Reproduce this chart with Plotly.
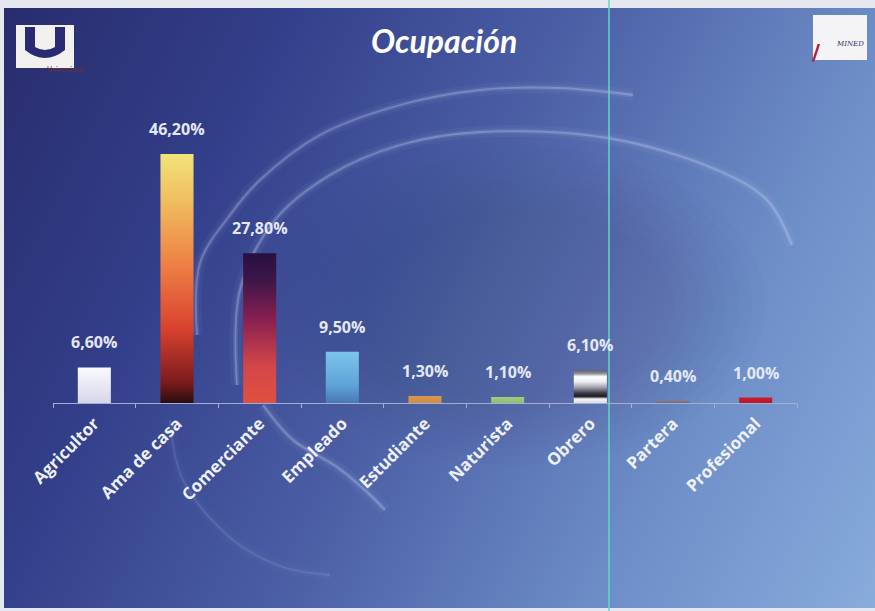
import numpy as np
import plotly.graph_objects as go

# Datos
categorias = ["Agricultor", "Ama de casa", "Comerciante", "Empleado", "Estudiante",
              "Naturista", "Obrero", "Partera", "Profesional"]
porcentajes = [6.6, 46.2, 27.8, 9.5, 1.3, 1.1, 6.1, 0.4, 1.0]
titulo = "Ocupación"

# Degradados de cada barra (de abajo hacia arriba)
degradados = [
    [[0, "#d6d6ea"], [1, "#fafafd"]],
    [[0, "#2a0c10"], [0.08, "#7a1a1c"], [0.3, "#d8432f"], [0.55, "#ee7e45"],
     [0.8, "#f0bb5e"], [1, "#f2e27a"]],
    [[0, "#e0503e"], [0.25, "#d2464a"], [0.55, "#8a2050"], [0.82, "#3e1648"], [1, "#261040"]],
    [[0, "#4a78b4"], [0.35, "#5ea4d8"], [1, "#7cc4ec"]],
    [[0, "#cf8c48"], [1, "#d89850"]],
    [[0, "#8ec070"], [1, "#a0cc80"]],
    [[0, "#dcdce4"], [0.12, "#f4f4f6"], [0.2, "#1c1c22"], [0.3, "#3a3a44"],
     [0.48, "#a4a4ae"], [0.65, "#eeeef2"], [0.8, "#ffffff"], [0.9, "#8c8c96"], [1, "#60606c"]],
    [[0, "#7a6870"], [1, "#8a7880"]],
    [[0, "#b81626"], [1, "#c82030"]],
]

W, H = 875, 611
FONT = "Open Sans"
ancho = 0.2  # media anchura de barra, en unidades de categoría

fig = go.Figure()

# Fondo de la diapositiva: degradado azul
gx = np.linspace(-40, W + 40, 70)
gy = np.linspace(-30, H + 30, 50)
GX, GY = np.meshgrid(gx, gy)
z = 0.74 * (GX / W) + 0.26 * (GY / H)
fig.add_trace(go.Heatmap(
    x=gx, y=gy, z=z, zsmooth="best", showscale=False, hoverinfo="skip",
    zmin=0, zmax=1,
    colorscale=[[0, "#282c6c"], [0.25, "#333f8a"], [0.5, "#4c60a6"],
                [0.75, "#6c8cc6"], [1, "#88acdc"]],
    xaxis="x", yaxis="y"))

# Zona oscura central del remolino (bordes suaves)
t = np.linspace(0, 2 * np.pi, 160)
for k in range(8):
    rx, ry = 250 - 13 * k, 160 - 9 * k
    fig.add_trace(go.Scatter(
        x=515 + rx * np.cos(t), y=305 + ry * np.sin(t), mode="lines",
        fill="toself", fillcolor="rgba(28,36,96,0.02)", line=dict(width=0),
        hoverinfo="skip", showlegend=False, xaxis="x", yaxis="y"))

# Arcos luminosos del fondo
arcos = [
    ([197, 200, 230, 260, 320, 400, 480, 560, 633],
     [335, 263, 215, 180, 135, 105, 90, 88, 95], 0.30),
    ([237, 240, 275, 330, 400, 480, 608, 717, 767, 792],
     [385, 290, 220, 175, 145, 132, 138, 170, 200, 245], 0.32),
    ([263, 293, 337, 367, 385],
     [405, 440, 467, 492, 510], 0.32),
    ([170, 183, 233, 283, 330],
     [420, 480, 540, 567, 575], 0.12),
]
for ax_, ay_, a in arcos:
    for w_, f in [(12, 0.16), (5, 0.35), (1.8, 0.9)]:
        fig.add_trace(go.Scatter(
            x=ax_, y=ay_, mode="lines", line=dict(color=f"rgba(205,218,248,{a * f})",
                                                   width=w_, shape="spline"),
            hoverinfo="skip", showlegend=False, xaxis="x", yaxis="y"))

# Barras con relleno degradado
for i, (cat, v) in enumerate(zip(categorias, porcentajes)):
    fig.add_trace(go.Scatter(
        x=[i - ancho, i + ancho, i + ancho, i - ancho, i - ancho],
        y=[0, 0, v, v, 0], mode="lines", fill="toself",
        fillgradient=dict(type="vertical", colorscale=degradados[i]),
        line=dict(width=0), name=cat, showlegend=False,
        hovertemplate=f"{cat}: %{{y}}%<extra></extra>",
        xaxis="x2", yaxis="y2"))

# Etiquetas de valor
for i, v in enumerate(porcentajes):
    fig.add_annotation(
        x=i, y=v, xref="x2", yref="y2", yanchor="bottom", yshift=12,
        text=f"{v:.2f}".replace(".", ",") + "%", showarrow=False,
        font=dict(family=FONT, size=16, color="#e4e8f4", weight="bold"))

# Título
fig.add_annotation(
    x=444 / W, y=1 - 40 / H, xref="paper", yref="paper", text=titulo,
    showarrow=False, xanchor="center", yanchor="middle",
    font=dict(family="Lato", size=32, color="#ffffff", style="italic", weight="bold"))

# Logotipos
shapes = [
    dict(type="rect", xref="paper", yref="paper", x0=16 / W, x1=74 / W,
         y0=1 - 68 / H, y1=1 - 25 / H, fillcolor="#f2f0ee", line=dict(width=0)),
    dict(type="path", xref="paper", yref="paper", fillcolor="#2a2a72", line=dict(width=0),
         path=(f"M {25/W},{1-27/H} L {35/W},{1-27/H} L {35/W},{1-47/H} "
               f"Q {45/W},{1-53/H} {55/W},{1-47/H} L {55/W},{1-27/H} L {65/W},{1-27/H} "
               f"L {65/W},{1-50/H} Q {45/W},{1-66/H} {25/W},{1-50/H} Z")),
    dict(type="rect", xref="paper", yref="paper", x0=813 / W, x1=867 / W,
         y0=1 - 60 / H, y1=1 - 15 / H, fillcolor="#f4f4f6", line=dict(width=0)),
    dict(type="line", xref="paper", yref="paper", x0=609 / W, x1=609 / W,
         y0=0, y1=1, line=dict(color="#5ed8c8", width=1.5)),
]
fig.add_annotation(x=45 / W, y=1 - 63 / H, xref="paper", yref="paper",
                   text="Universidad", showarrow=False,
                   font=dict(family="Lato", size=7, color="#703030"))
fig.add_annotation(x=834 / W, y=1 - 38 / H, xref="paper", yref="paper",
                   xanchor="left", text="<i>MINED</i>", showarrow=False,
                   font=dict(family="DejaVu Serif", size=7, color="#2a2a60"))
fig.add_annotation(x=823 / W, y=1 - 38 / H, xref="paper", yref="paper",
                   text="/", showarrow=False,
                   font=dict(family="DejaVu Sans", size=22, color="#b02030", weight="bold"))

n = len(categorias)
fig.update_layout(
    width=W, height=H, margin=dict(l=0, r=0, t=0, b=0, autoexpand=False),
    paper_bgcolor="#e6e8f0", plot_bgcolor="rgba(0,0,0,0)",
    showlegend=False, shapes=shapes,
    xaxis=dict(domain=[4 / W, 1], range=[4, W], visible=False, fixedrange=True,
               automargin=False),
    yaxis=dict(domain=[3 / H, 1 - 8 / H], range=[608, 8], visible=False, fixedrange=True,
               automargin=False),
    xaxis2=dict(domain=[53 / W, 797 / W], range=[-0.5, n - 0.5], anchor="y2",
                tickmode="array", tickvals=list(range(n)), ticktext=categorias,
                tickangle=-45, ticks="", showgrid=False, zeroline=False,
                showline=True, linecolor="#a4aed0", linewidth=1,
                ticklabelstandoff=3, automargin=False,
                minor=dict(tickmode="array", tickvals=[k - 0.5 for k in range(n + 1)],
                           ticks="outside", ticklen=4, tickcolor="#a4aed0", showgrid=False),
                tickfont=dict(family=FONT, size=17, color="#eef0f8", weight="bold")),
    yaxis2=dict(domain=[208 / H, 1 - 106.6 / H], range=[0, 55], anchor="x2",
                visible=False, showgrid=False, zeroline=False, automargin=False),
)

fig.write_html("out.html")
